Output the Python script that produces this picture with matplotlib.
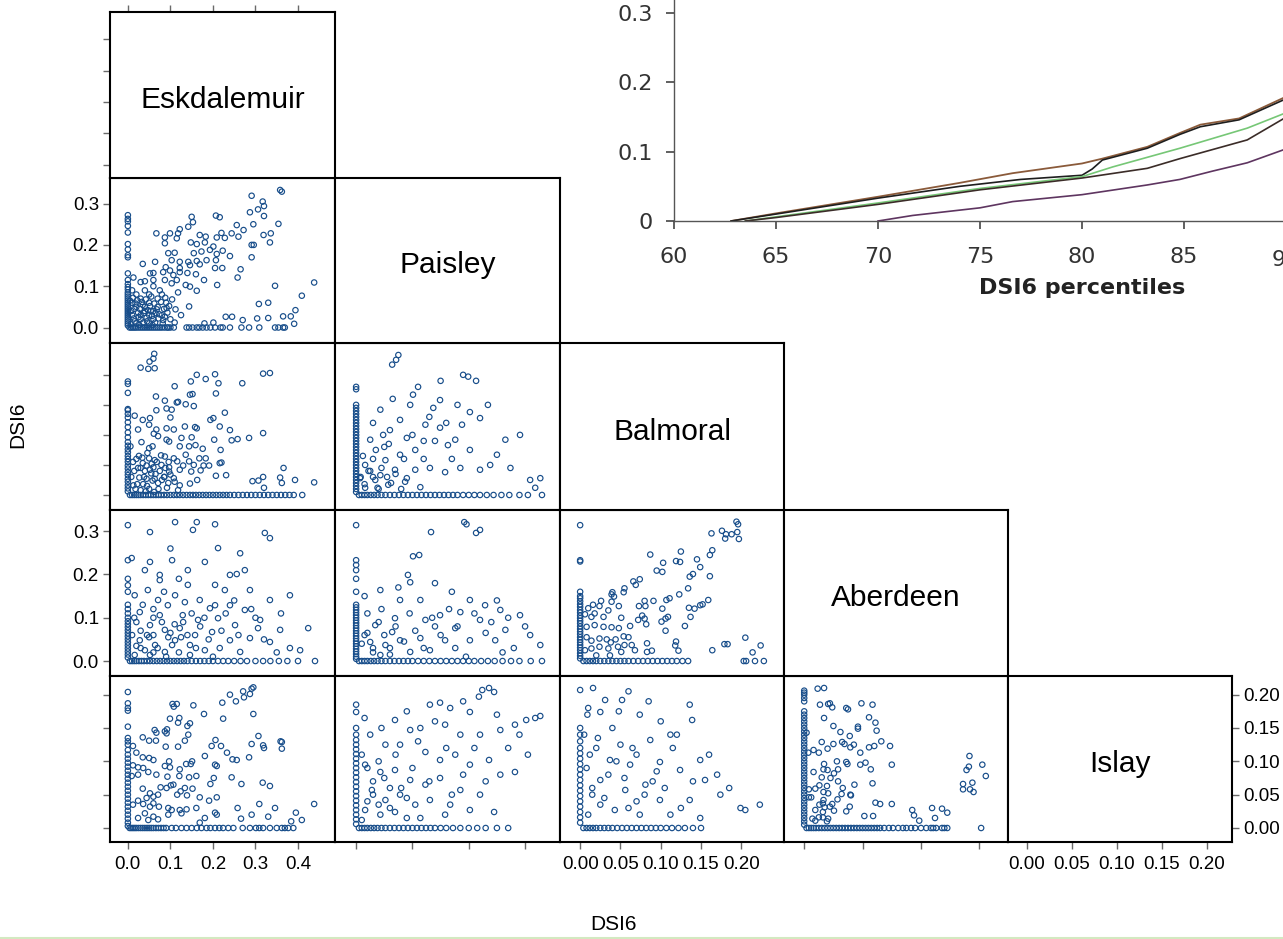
import numpy as np
import matplotlib.pyplot as plt
from matplotlib.lines import Line2D

plt.rcParams['font.family'] = ['Liberation Sans', 'DejaVu Sans']

W, H = 1283, 939

stations = ['Eskdalemuir', 'Paisley', 'Balmoral', 'Aberdeen', 'Islay']
limits = [(-0.042, 0.487), (-0.0375, 0.362), (-0.025, 0.253), (-0.0346, 0.349), (-0.021, 0.228)]
ticks = [[0.0, 0.1, 0.2, 0.3, 0.4], [0.0, 0.1, 0.2, 0.3], [0.0, 0.05, 0.10, 0.15, 0.20],
         [0.0, 0.1, 0.2, 0.3], [0.0, 0.05, 0.10, 0.15, 0.20]]
tick_labels = [['0.0', '0.1', '0.2', '0.3', '0.4'], ['0.0', '0.1', '0.2', '0.3'],
               ['0.00', '0.05', '0.10', '0.15', '0.20'], ['0.0', '0.1', '0.2', '0.3'],
               ['0.00', '0.05', '0.10', '0.15', '0.20']]

# ---- scatter data: off-axis points, values on the x=0 line, values on the y=0 line ----
# Eskdalemuir (x) vs Paisley (y)
esk_pai_pts = [
    (0.358, 0.333), (0.362, 0.329), (0.291, 0.319), (0.317, 0.305), (0.320, 0.294), (0.306, 0.286), (0.287, 0.279),
    (0.207, 0.271), (0.150, 0.268), (0.216, 0.267), (0.320, 0.270), (0.354, 0.251), (0.142, 0.244), (0.122, 0.238),
    (0.153, 0.255), (0.256, 0.248), (0.272, 0.236), (0.295, 0.250), (0.067, 0.228), (0.099, 0.228), (0.118, 0.228),
    (0.169, 0.224), (0.183, 0.220), (0.220, 0.229), (0.244, 0.228), (0.260, 0.220), (0.319, 0.224), (0.336, 0.228),
    (0.087, 0.218), (0.115, 0.216), (0.087, 0.204), (0.148, 0.206), (0.162, 0.202), (0.181, 0.206), (0.209, 0.218),
    (0.228, 0.217), (0.291, 0.200), (0.296, 0.200), (0.334, 0.206), (0.095, 0.180), (0.110, 0.181), (0.155, 0.180),
    (0.173, 0.184), (0.193, 0.188), (0.201, 0.196), (0.209, 0.178), (0.223, 0.186), (0.240, 0.173), (0.291, 0.170),
    (0.035, 0.154), (0.064, 0.159), (0.103, 0.163), (0.122, 0.159), (0.142, 0.159), (0.162, 0.161), (0.185, 0.163),
    (0.207, 0.163), (0.089, 0.146), (0.099, 0.138), (0.122, 0.144), (0.146, 0.151), (0.169, 0.153), (0.205, 0.144),
    (0.222, 0.144), (0.265, 0.141), (0.052, 0.131), (0.060, 0.132), (0.083, 0.134), (0.107, 0.127), (0.122, 0.134),
    (0.140, 0.132), (0.160, 0.129), (0.258, 0.121), (0.013, 0.121), (0.040, 0.112), (0.060, 0.115), (0.087, 0.115),
    (0.103, 0.107), (0.115, 0.115), (0.136, 0.103), (0.146, 0.099), (0.179, 0.115), (0.210, 0.103), (0.162, 0.089),
    (0.346, 0.101), (0.438, 0.109), (0.409, 0.077), (0.308, 0.057), (0.330, 0.060), (0.144, 0.051), (0.091, 0.047),
    (0.230, 0.026), (0.245, 0.026), (0.270, 0.018), (0.304, 0.022), (0.330, 0.023), (0.365, 0.027), (0.383, 0.027),
    (0.394, 0.042), (0.391, 0.009), (0.201, 0.012), (0.180, 0.010), (0.087, 0.026),
    (0.010, 0.060), (0.020, 0.050), (0.030, 0.070), (0.040, 0.050), (0.050, 0.060), (0.060, 0.040), (0.030, 0.030),
    (0.050, 0.030), (0.070, 0.070), (0.020, 0.080), (0.040, 0.090), (0.060, 0.100), (0.080, 0.080), (0.010, 0.030),
    (0.030, 0.020), (0.060, 0.020), (0.080, 0.030), (0.020, 0.010), (0.050, 0.010), (0.070, 0.050), (0.090, 0.060),
    (0.040, 0.040), (0.015, 0.045), (0.035, 0.055), (0.055, 0.075), (0.025, 0.025), (0.045, 0.015), (0.065, 0.035),
    (0.075, 0.090), (0.085, 0.045), (0.010, 0.090), (0.030, 0.110), (0.050, 0.080),
    (0.005, 0.065), (0.012, 0.072), (0.018, 0.058), (0.022, 0.066), (0.028, 0.045), (0.033, 0.062), (0.038, 0.035),
    (0.042, 0.068), (0.047, 0.042), (0.052, 0.052), (0.057, 0.028), (0.062, 0.058), (0.068, 0.044), (0.072, 0.022),
    (0.078, 0.062), (0.083, 0.018), (0.088, 0.072), (0.093, 0.036), (0.008, 0.040), (0.014, 0.022), (0.024, 0.036),
    (0.036, 0.012), (0.044, 0.024), (0.054, 0.040), (0.064, 0.012), (0.074, 0.032), (0.097, 0.052), (0.104, 0.068),
    (0.112, 0.044), (0.118, 0.085), (0.125, 0.030), (0.007, 0.008), (0.016, 0.015), (0.027, 0.006), (0.058, 0.006),
    (0.082, 0.010), (0.100, 0.020), (0.110, 0.012)]
esk_pai_col = [0.272, 0.263, 0.257, 0.246, 0.230, 0.202, 0.189, 0.175, 0.170, 0.131, 0.115, 0.105, 0.098, 0.092,
               0.085, 0.080, 0.075, 0.070, 0.065, 0.060, 0.055, 0.050, 0.045, 0.040, 0.035, 0.030, 0.025, 0.020,
               0.015, 0.010, 0.005]
esk_pai_row = [0.004, 0.008, 0.012, 0.016, 0.020, 0.025, 0.030, 0.035, 0.040, 0.045, 0.050, 0.055, 0.060, 0.065,
               0.070, 0.075, 0.080, 0.086, 0.092, 0.095, 0.100, 0.108, 0.138, 0.144, 0.152, 0.162, 0.168, 0.176,
               0.185, 0.194, 0.205, 0.218, 0.223, 0.240, 0.267, 0.285, 0.309, 0.346, 0.354, 0.365, 0.369]

# Eskdalemuir (x) vs Balmoral (y)
esk_bal_pts = [
    (0.062, 0.235), (0.060, 0.227), (0.051, 0.222), (0.030, 0.212), (0.048, 0.210), (0.063, 0.211), (0.318, 0.202),
    (0.334, 0.203), (0.162, 0.200), (0.205, 0.201), (0.183, 0.193), (0.148, 0.189), (0.213, 0.186), (0.269, 0.186),
    (0.110, 0.181), (0.152, 0.168), (0.207, 0.169), (0.066, 0.164), (0.146, 0.167), (0.087, 0.157), (0.115, 0.154),
    (0.118, 0.155), (0.136, 0.151), (0.155, 0.148), (0.091, 0.144), (0.103, 0.142), (0.067, 0.141), (0.016, 0.132),
    (0.052, 0.128), (0.035, 0.125), (0.100, 0.129), (0.194, 0.125), (0.201, 0.128), (0.228, 0.137), (0.050, 0.117),
    (0.024, 0.109), (0.067, 0.109), (0.091, 0.111), (0.108, 0.109), (0.134, 0.114), (0.158, 0.113), (0.162, 0.111),
    (0.216, 0.114), (0.240, 0.108), (0.318, 0.103), (0.061, 0.102), (0.071, 0.098), (0.126, 0.095), (0.150, 0.096),
    (0.091, 0.092), (0.097, 0.089), (0.032, 0.088), (0.285, 0.095), (0.258, 0.093), (0.244, 0.091), (0.203, 0.092),
    (0.006, 0.081), (0.050, 0.078), (0.058, 0.081), (0.122, 0.081), (0.144, 0.081), (0.159, 0.083), (0.176, 0.077),
    (0.218, 0.075), (0.136, 0.067), (0.050, 0.061), (0.063, 0.058), (0.087, 0.064), (0.108, 0.061), (0.116, 0.056),
    (0.144, 0.056), (0.168, 0.061), (0.183, 0.061), (0.216, 0.053), (0.220, 0.054), (0.035, 0.053), (0.024, 0.045),
    (0.044, 0.049), (0.060, 0.046), (0.079, 0.050), (0.097, 0.046), (0.130, 0.049), (0.155, 0.050), (0.178, 0.049),
    (0.191, 0.049), (0.366, 0.045), (0.171, 0.041), (0.149, 0.039), (0.097, 0.039), (0.122, 0.042), (0.207, 0.032),
    (0.231, 0.033), (0.318, 0.030), (0.358, 0.029), (0.393, 0.025), (0.438, 0.021), (0.293, 0.023), (0.307, 0.024),
    (0.362, 0.020), (0.320, 0.012), (0.027, 0.029), (0.044, 0.027), (0.063, 0.027), (0.071, 0.020), (0.108, 0.028),
    (0.122, 0.016), (0.146, 0.019), (0.163, 0.025), (0.036, 0.018), (0.013, 0.016), (0.055, 0.036), (0.085, 0.030),
    (0.040, 0.040), (0.075, 0.040), (0.020, 0.060), (0.095, 0.020), (0.050, 0.010), (0.030, 0.008),
    (0.008, 0.030), (0.015, 0.040), (0.022, 0.018), (0.030, 0.045), (0.038, 0.030), (0.045, 0.015), (0.052, 0.042),
    (0.058, 0.024), (0.065, 0.035), (0.072, 0.010), (0.080, 0.025), (0.088, 0.045), (0.092, 0.012), (0.100, 0.034),
    (0.110, 0.022), (0.118, 0.008), (0.012, 0.055), (0.026, 0.065), (0.034, 0.062), (0.046, 0.070), (0.056, 0.052),
    (0.068, 0.055), (0.078, 0.066), (0.086, 0.030), (0.018, 0.010), (0.042, 0.006), (0.062, 0.005), (0.096, 0.055)]
esk_bal_col = [0.189, 0.185, 0.170, 0.143, 0.141, 0.135, 0.129, 0.121, 0.113, 0.104, 0.096, 0.088, 0.082, 0.076,
               0.071, 0.065, 0.060, 0.055, 0.049, 0.044, 0.038, 0.033, 0.027, 0.022, 0.016, 0.011, 0.006]
esk_bal_row = [0.005, 0.010, 0.015, 0.020, 0.025, 0.030, 0.036, 0.042, 0.048, 0.054, 0.060, 0.066, 0.072, 0.078,
               0.085, 0.092, 0.100, 0.108, 0.115, 0.122, 0.130, 0.138, 0.146, 0.153, 0.160, 0.168, 0.176, 0.184,
               0.192, 0.200, 0.208, 0.216, 0.224, 0.232, 0.240, 0.250, 0.260, 0.270, 0.280, 0.290, 0.300, 0.310,
               0.320, 0.330, 0.340, 0.350, 0.360, 0.370, 0.380, 0.390, 0.410]

# Paisley (x) vs Balmoral (y)
pai_bal_pts = [
    (0.075, 0.233), (0.071, 0.225), (0.064, 0.217), (0.101, 0.167), (0.190, 0.200), (0.199, 0.197), (0.213, 0.190),
    (0.149, 0.158), (0.137, 0.145), (0.096, 0.150), (0.043, 0.142), (0.202, 0.138), (0.234, 0.150), (0.220, 0.128),
    (0.188, 0.117), (0.149, 0.112), (0.123, 0.117), (0.078, 0.125), (0.060, 0.108), (0.025, 0.092), (0.176, 0.092),
    (0.265, 0.092), (0.291, 0.100), (0.250, 0.067), (0.202, 0.075), (0.163, 0.083), (0.105, 0.075), (0.078, 0.067),
    (0.052, 0.058), (0.016, 0.050), (0.043, 0.033), (0.069, 0.042), (0.105, 0.042), (0.131, 0.045), (0.158, 0.038),
    (0.185, 0.045), (0.220, 0.042), (0.238, 0.050), (0.274, 0.045), (0.309, 0.025), (0.327, 0.028), (0.318, 0.012),
    (0.034, 0.025), (0.007, 0.028), (0.057, 0.017), (0.087, 0.022), (0.114, 0.013), (0.016, 0.012), (0.030, 0.060),
    (0.050, 0.080), (0.090, 0.095), (0.120, 0.060), (0.140, 0.090), (0.170, 0.060), (0.040, 0.010), (0.025, 0.040),
    (0.008, 0.030), (0.015, 0.018), (0.022, 0.040), (0.030, 0.030), (0.038, 0.012), (0.045, 0.045), (0.055, 0.030),
    (0.062, 0.020), (0.070, 0.035), (0.080, 0.010), (0.090, 0.028), (0.012, 0.065), (0.035, 0.075), (0.058, 0.085),
    (0.085, 0.060), (0.100, 0.100), (0.120, 0.090), (0.130, 0.130), (0.160, 0.120), (0.180, 0.150), (0.065, 0.160),
    (0.110, 0.180), (0.150, 0.190), (0.030, 0.120), (0.048, 0.100)]
pai_bal_col = [0.180, 0.176, 0.150, 0.145, 0.140, 0.135, 0.130, 0.125, 0.120, 0.115, 0.110, 0.105, 0.100, 0.095,
               0.090, 0.085, 0.080, 0.075, 0.070, 0.065, 0.060, 0.055, 0.050, 0.045, 0.040, 0.035, 0.030, 0.025,
               0.020, 0.015, 0.010, 0.005]
pai_bal_row = [0.005, 0.010, 0.015, 0.020, 0.026, 0.032, 0.038, 0.045, 0.052, 0.060, 0.068, 0.076, 0.084, 0.092,
               0.100, 0.108, 0.116, 0.124, 0.132, 0.140, 0.148, 0.156, 0.164, 0.172, 0.180, 0.190, 0.200, 0.210,
               0.220, 0.232, 0.244, 0.258, 0.272, 0.290, 0.305, 0.330]

# Eskdalemuir (x) vs Aberdeen (y)
esk_abe_pts = [
    (0.111, 0.321), (0.162, 0.321), (0.205, 0.316), (0.153, 0.303), (0.052, 0.298), (0.212, 0.261), (0.322, 0.296),
    (0.334, 0.284), (0.264, 0.249), (0.009, 0.238), (0.052, 0.229), (0.100, 0.260), (0.075, 0.199), (0.141, 0.210),
    (0.256, 0.201), (0.016, 0.152), (0.047, 0.164), (0.071, 0.141), (0.094, 0.129), (0.111, 0.152), (0.134, 0.136),
    (0.169, 0.141), (0.193, 0.122), (0.240, 0.129), (0.275, 0.118), (0.028, 0.113), (0.075, 0.106), (0.129, 0.106),
    (0.165, 0.095), (0.212, 0.099), (0.252, 0.083), (0.311, 0.095), (0.306, 0.076), (0.358, 0.072), (0.052, 0.083),
    (0.087, 0.072), (0.122, 0.076), (0.158, 0.060), (0.198, 0.067), (0.240, 0.048), (0.287, 0.053), (0.334, 0.044),
    (0.028, 0.048), (0.064, 0.037), (0.104, 0.037), (0.146, 0.037), (0.181, 0.025), (0.216, 0.030), (0.264, 0.021),
    (0.381, 0.030), (0.405, 0.025), (0.016, 0.014), (0.052, 0.014), (0.087, 0.021), (0.146, 0.014), (0.141, 0.176),
    (0.205, 0.176), (0.228, 0.164), (0.287, 0.164), (0.334, 0.141), (0.381, 0.152), (0.424, 0.076), (0.205, 0.129),
    (0.111, 0.048), (0.040, 0.210), (0.104, 0.233), (0.181, 0.229), (0.275, 0.210), (0.075, 0.187), (0.240, 0.199),
    (0.030, 0.030), (0.045, 0.060), (0.060, 0.020), (0.095, 0.055), (0.020, 0.090), (0.060, 0.100), (0.125, 0.055),
    (0.010, 0.060), (0.020, 0.035), (0.030, 0.070), (0.040, 0.025), (0.050, 0.055), (0.060, 0.060), (0.070, 0.030),
    (0.080, 0.090), (0.090, 0.010), (0.100, 0.065), (0.110, 0.085), (0.120, 0.020), (0.130, 0.090), (0.140, 0.060),
    (0.150, 0.110), (0.160, 0.030), (0.170, 0.080), (0.180, 0.100), (0.190, 0.050), (0.200, 0.010), (0.220, 0.070),
    (0.230, 0.110), (0.250, 0.140), (0.260, 0.060), (0.290, 0.120), (0.300, 0.100), (0.320, 0.050), (0.350, 0.020),
    (0.360, 0.110), (0.015, 0.100), (0.035, 0.130), (0.060, 0.120), (0.085, 0.160), (0.120, 0.190)]
esk_abe_col = [0.314, 0.233, 0.190, 0.175, 0.160, 0.130, 0.120, 0.110, 0.100, 0.092, 0.085, 0.078, 0.071, 0.064,
               0.057, 0.050, 0.043, 0.036, 0.029, 0.022, 0.015, 0.008]
esk_abe_row = [0.005, 0.010, 0.015, 0.020, 0.026, 0.032, 0.038, 0.045, 0.052, 0.060, 0.068, 0.076, 0.084, 0.092,
               0.100, 0.108, 0.116, 0.124, 0.132, 0.140, 0.150, 0.160, 0.170, 0.180, 0.190, 0.200, 0.212, 0.224,
               0.236, 0.250, 0.265, 0.280, 0.300, 0.318, 0.335, 0.355, 0.375, 0.400, 0.440]

# Paisley (x) vs Aberdeen (y)
pai_abe_pts = [
    (0.192, 0.321), (0.196, 0.316), (0.213, 0.296), (0.220, 0.303), (0.133, 0.298), (0.112, 0.245), (0.101, 0.242),
    (0.092, 0.199), (0.096, 0.182), (0.043, 0.164), (0.078, 0.141), (0.114, 0.141), (0.202, 0.141), (0.229, 0.129),
    (0.185, 0.113), (0.149, 0.106), (0.123, 0.095), (0.069, 0.099), (0.034, 0.083), (0.176, 0.076), (0.220, 0.095),
    (0.256, 0.118), (0.291, 0.106), (0.309, 0.060), (0.327, 0.037), (0.265, 0.072), (0.247, 0.048), (0.202, 0.048),
    (0.158, 0.048), (0.114, 0.053), (0.078, 0.048), (0.052, 0.037), (0.025, 0.044), (0.176, 0.030), (0.131, 0.025),
    (0.096, 0.021), (0.043, 0.014), (0.064, 0.067), (0.015, 0.060), (0.030, 0.020), (0.060, 0.030), (0.140, 0.080),
    (0.240, 0.090), (0.280, 0.030), (0.020, 0.110),
    (0.010, 0.040), (0.020, 0.065), (0.030, 0.030), (0.040, 0.090), (0.050, 0.060), (0.060, 0.015), (0.070, 0.080),
    (0.085, 0.045), (0.095, 0.110), (0.105, 0.070), (0.120, 0.030), (0.135, 0.100), (0.150, 0.060), (0.165, 0.120),
    (0.180, 0.080), (0.195, 0.010), (0.210, 0.110), (0.230, 0.065), (0.260, 0.020), (0.270, 0.100), (0.300, 0.080),
    (0.015, 0.150), (0.045, 0.120), (0.075, 0.170), (0.140, 0.180), (0.170, 0.160), (0.250, 0.140)]
pai_abe_col = [0.314, 0.233, 0.222, 0.210, 0.190, 0.160, 0.130, 0.124, 0.118, 0.112, 0.106, 0.100, 0.094, 0.088,
               0.082, 0.076, 0.070, 0.064, 0.058, 0.052, 0.046, 0.040, 0.034, 0.028, 0.022, 0.016, 0.010, 0.005]
pai_abe_row = [0.005, 0.010, 0.015, 0.020, 0.026, 0.032, 0.038, 0.045, 0.052, 0.060, 0.068, 0.076, 0.084, 0.092,
               0.100, 0.110, 0.120, 0.130, 0.140, 0.150, 0.160, 0.170, 0.180, 0.190, 0.200, 0.210, 0.222, 0.234,
               0.246, 0.260, 0.275, 0.290, 0.310, 0.330]

# Balmoral (x) vs Aberdeen (y)
bal_abe_pts = [
    (0.194, 0.322), (0.196, 0.316), (0.176, 0.301), (0.181, 0.293), (0.188, 0.293), (0.180, 0.283), (0.197, 0.282),
    (0.195, 0.298), (0.163, 0.295), (0.164, 0.256), (0.161, 0.245), (0.125, 0.253), (0.124, 0.229), (0.119, 0.231),
    (0.103, 0.227), (0.087, 0.246), (0.095, 0.209), (0.102, 0.206), (0.145, 0.235), (0.149, 0.217), (0.161, 0.196),
    (0.136, 0.195), (0.140, 0.201), (0.074, 0.189), (0.066, 0.184), (0.069, 0.176), (0.055, 0.168), (0.054, 0.159),
    (0.040, 0.159), (0.042, 0.149), (0.039, 0.154), (0.134, 0.168), (0.123, 0.154), (0.111, 0.145), (0.107, 0.141),
    (0.159, 0.141), (0.152, 0.131), (0.149, 0.129), (0.142, 0.121), (0.135, 0.123), (0.137, 0.102), (0.130, 0.081),
    (0.106, 0.070), (0.102, 0.121), (0.106, 0.098), (0.101, 0.091), (0.109, 0.102), (0.091, 0.139), (0.080, 0.139),
    (0.081, 0.127), (0.073, 0.127), (0.077, 0.105), (0.082, 0.085), (0.080, 0.098), (0.072, 0.095), (0.062, 0.081),
    (0.051, 0.100), (0.048, 0.127), (0.039, 0.137), (0.026, 0.139), (0.016, 0.130), (0.010, 0.122), (0.024, 0.127),
    (0.035, 0.117), (0.018, 0.110), (0.014, 0.102), (0.029, 0.102), (0.006, 0.108), (0.008, 0.079), (0.018, 0.083),
    (0.029, 0.079), (0.039, 0.078), (0.048, 0.076), (0.060, 0.055), (0.054, 0.057), (0.044, 0.050), (0.038, 0.043),
    (0.033, 0.050), (0.024, 0.052), (0.014, 0.047), (0.008, 0.055), (0.024, 0.033), (0.014, 0.029), (0.006, 0.025),
    (0.035, 0.029), (0.047, 0.033), (0.055, 0.037), (0.064, 0.037), (0.068, 0.025), (0.051, 0.021), (0.037, 0.013),
    (0.020, 0.013), (0.083, 0.041), (0.089, 0.024), (0.083, 0.021), (0.119, 0.045), (0.118, 0.036), (0.122, 0.024),
    (0.179, 0.039), (0.183, 0.039), (0.164, 0.025), (0.205, 0.054), (0.224, 0.036), (0.214, 0.020)]
bal_abe_col = [0.314, 0.233, 0.230, 0.160, 0.150, 0.145, 0.138, 0.131, 0.125, 0.118, 0.112, 0.105, 0.099, 0.093,
               0.087, 0.080, 0.074, 0.068, 0.062, 0.055, 0.049, 0.043, 0.037, 0.031, 0.025, 0.018, 0.012, 0.006]
bal_abe_row = [0.004, 0.008, 0.012, 0.016, 0.020, 0.025, 0.030, 0.035, 0.040, 0.045, 0.050, 0.055, 0.060, 0.066,
               0.072, 0.078, 0.084, 0.090, 0.096, 0.102, 0.108, 0.114, 0.120, 0.127, 0.134, 0.203, 0.206, 0.217,
               0.228]

# Eskdalemuir (x) vs Islay (y)
esk_isl_pts = [
    (0.295, 0.211), (0.291, 0.209), (0.271, 0.205), (0.240, 0.200), (0.273, 0.196), (0.287, 0.201), (0.254, 0.190),
    (0.222, 0.188), (0.105, 0.186), (0.115, 0.186), (0.108, 0.182), (0.154, 0.184), (0.295, 0.171), (0.179, 0.171),
    (0.224, 0.164), (0.099, 0.164), (0.121, 0.165), (0.118, 0.158), (0.146, 0.157), (0.140, 0.153), (0.063, 0.147),
    (0.067, 0.143), (0.087, 0.145), (0.092, 0.148), (0.091, 0.142), (0.142, 0.140), (0.307, 0.138), (0.291, 0.126),
    (0.318, 0.124), (0.320, 0.120), (0.359, 0.130), (0.362, 0.129), (0.362, 0.119), (0.035, 0.136), (0.050, 0.131),
    (0.066, 0.131), (0.134, 0.131), (0.206, 0.132), (0.219, 0.123), (0.197, 0.123), (0.118, 0.122), (0.089, 0.122),
    (0.012, 0.123), (0.020, 0.113), (0.035, 0.106), (0.050, 0.105), (0.060, 0.102), (0.233, 0.113), (0.181, 0.108),
    (0.205, 0.095), (0.209, 0.093), (0.151, 0.100), (0.148, 0.096), (0.137, 0.096), (0.097, 0.100), (0.087, 0.093),
    (0.099, 0.091), (0.122, 0.088), (0.161, 0.078), (0.144, 0.076), (0.121, 0.078), (0.093, 0.077), (0.246, 0.103),
    (0.256, 0.102), (0.285, 0.106), (0.244, 0.076), (0.202, 0.075), (0.267, 0.066), (0.317, 0.068), (0.334, 0.063),
    (0.194, 0.066), (0.012, 0.094), (0.024, 0.091), (0.036, 0.090), (0.048, 0.084), (0.067, 0.080), (0.024, 0.080),
    (0.009, 0.078), (0.107, 0.065), (0.101, 0.064), (0.091, 0.060), (0.077, 0.061), (0.134, 0.060), (0.152, 0.059),
    (0.124, 0.055), (0.116, 0.050), (0.139, 0.049), (0.169, 0.046), (0.191, 0.041), (0.209, 0.046), (0.035, 0.059),
    (0.052, 0.052), (0.060, 0.047), (0.071, 0.050), (0.044, 0.045), (0.024, 0.041), (0.012, 0.035), (0.036, 0.036),
    (0.052, 0.032), (0.060, 0.037), (0.073, 0.032), (0.095, 0.030), (0.103, 0.027), (0.122, 0.027), (0.138, 0.028),
    (0.161, 0.030), (0.126, 0.022), (0.095, 0.020), (0.181, 0.015), (0.205, 0.023), (0.209, 0.020), (0.258, 0.030),
    (0.266, 0.014), (0.291, 0.020), (0.309, 0.036), (0.330, 0.017), (0.346, 0.030), (0.395, 0.023), (0.409, 0.012),
    (0.384, 0.010), (0.438, 0.036), (0.024, 0.015), (0.048, 0.012), (0.071, 0.013), (0.040, 0.022), (0.060, 0.017),
    (0.169, 0.008)]
esk_isl_col = [0.204, 0.187, 0.180, 0.176, 0.152, 0.135, 0.130, 0.125, 0.117, 0.110, 0.104, 0.098, 0.092, 0.086,
               0.080, 0.074, 0.068, 0.062, 0.056, 0.050, 0.044, 0.038, 0.032, 0.026, 0.020, 0.014, 0.008, 0.003]
esk_isl_row = [0.004, 0.008, 0.012, 0.016, 0.020, 0.025, 0.030, 0.035, 0.040, 0.045, 0.050, 0.055, 0.060, 0.066,
               0.072, 0.078, 0.084, 0.090, 0.103, 0.113, 0.126, 0.138, 0.150, 0.162, 0.173, 0.185, 0.194, 0.205,
               0.215, 0.224, 0.236, 0.248, 0.270, 0.287, 0.301, 0.309, 0.318, 0.334, 0.350, 0.362, 0.369, 0.377,
               0.389]

# Paisley (x) vs Islay (y)
pai_isl_pts = [
    (0.224, 0.207), (0.236, 0.210), (0.245, 0.204), (0.218, 0.197), (0.131, 0.185), (0.149, 0.188), (0.167, 0.180),
    (0.202, 0.174), (0.069, 0.162), (0.096, 0.147), (0.114, 0.150), (0.158, 0.155), (0.185, 0.140), (0.220, 0.140),
    (0.256, 0.147), (0.282, 0.155), (0.302, 0.162), (0.318, 0.165), (0.327, 0.168), (0.025, 0.140), (0.052, 0.125),
    (0.078, 0.125), (0.123, 0.114), (0.149, 0.102), (0.176, 0.110), (0.202, 0.095), (0.236, 0.102), (0.256, 0.080),
    (0.282, 0.084), (0.016, 0.095), (0.043, 0.084), (0.069, 0.087), (0.096, 0.072), (0.123, 0.065), (0.149, 0.075),
    (0.185, 0.057), (0.220, 0.050), (0.028, 0.057), (0.052, 0.042), (0.078, 0.050), (0.105, 0.035), (0.131, 0.042),
    (0.167, 0.035), (0.202, 0.027), (0.016, 0.027), (0.043, 0.020), (0.069, 0.024), (0.114, 0.015), (0.158, 0.020),
    (0.245, 0.024), (0.030, 0.070), (0.060, 0.060), (0.090, 0.045), (0.020, 0.040), (0.040, 0.035), (0.010, 0.012),
    (0.010, 0.110), (0.020, 0.090), (0.030, 0.050), (0.040, 0.100), (0.050, 0.075), (0.060, 0.030), (0.070, 0.110),
    (0.080, 0.060), (0.090, 0.015), (0.100, 0.090), (0.110, 0.130), (0.130, 0.070), (0.140, 0.160), (0.160, 0.120),
    (0.170, 0.050), (0.190, 0.080), (0.210, 0.120), (0.230, 0.070), (0.250, 0.170), (0.270, 0.120), (0.290, 0.140),
    (0.305, 0.110), (0.015, 0.165), (0.045, 0.150), (0.090, 0.175), (0.190, 0.190)]
pai_isl_col = [0.185, 0.174, 0.150, 0.140, 0.132, 0.125, 0.118, 0.111, 0.104, 0.097, 0.090, 0.083, 0.076, 0.069,
               0.062, 0.055, 0.048, 0.041, 0.034, 0.027, 0.020, 0.013, 0.006]
pai_isl_row = [0.005, 0.010, 0.015, 0.020, 0.026, 0.032, 0.038, 0.045, 0.052, 0.060, 0.068, 0.076, 0.084, 0.092,
               0.100, 0.108, 0.116, 0.124, 0.132, 0.140, 0.150, 0.160, 0.172, 0.185, 0.200, 0.215, 0.230, 0.250,
               0.270]

# Balmoral (x) vs Islay (y)
bal_isl_pts = [
    (0.016, 0.210), (0.031, 0.192), (0.052, 0.192), (0.025, 0.174), (0.009, 0.170), (0.074, 0.170), (0.136, 0.185),
    (0.139, 0.162), (0.112, 0.140), (0.087, 0.132), (0.050, 0.125), (0.022, 0.135), (0.037, 0.102), (0.062, 0.095),
    (0.099, 0.099), (0.124, 0.087), (0.149, 0.102), (0.155, 0.072), (0.174, 0.050), (0.199, 0.030), (0.205, 0.027),
    (0.223, 0.035), (0.025, 0.072), (0.056, 0.057), (0.081, 0.065), (0.099, 0.042), (0.136, 0.042), (0.025, 0.035),
    (0.043, 0.027), (0.074, 0.020), (0.112, 0.020), (0.149, 0.015), (0.012, 0.110), (0.040, 0.150), (0.065, 0.120),
    (0.015, 0.050), (0.035, 0.080), (0.070, 0.040), (0.010, 0.020), (0.090, 0.070),
    (0.008, 0.090), (0.015, 0.060), (0.020, 0.120), (0.030, 0.045), (0.045, 0.100), (0.055, 0.075), (0.060, 0.030),
    (0.070, 0.110), (0.080, 0.050), (0.095, 0.085), (0.105, 0.060), (0.115, 0.120), (0.125, 0.030), (0.140, 0.070),
    (0.160, 0.110), (0.170, 0.080), (0.185, 0.060), (0.010, 0.180), (0.048, 0.175), (0.100, 0.160), (0.060, 0.205),
    (0.085, 0.190), (0.120, 0.140), (0.005, 0.140)]
bal_isl_col = [0.207, 0.150, 0.140, 0.130, 0.120, 0.112, 0.104, 0.096, 0.088, 0.080, 0.072, 0.064, 0.056, 0.048,
               0.040, 0.032, 0.024, 0.016, 0.008]
bal_isl_row = [0.004, 0.008, 0.012, 0.016, 0.020, 0.025, 0.030, 0.035, 0.040, 0.046, 0.052, 0.058, 0.064, 0.070,
               0.076, 0.082, 0.088, 0.094, 0.100, 0.107, 0.114, 0.122, 0.130, 0.140, 0.150]

# Aberdeen (x) vs Islay (y)
abe_isl_pts = [
    (0.023, 0.209), (0.034, 0.210), (0.027, 0.185), (0.041, 0.186), (0.044, 0.187), (0.048, 0.181), (0.072, 0.180),
    (0.075, 0.178), (0.098, 0.187), (0.117, 0.185), (0.034, 0.165), (0.111, 0.166), (0.122, 0.158), (0.124, 0.146),
    (0.092, 0.152), (0.092, 0.149), (0.050, 0.153), (0.062, 0.144), (0.078, 0.138), (0.004, 0.143), (0.030, 0.129),
    (0.065, 0.129), (0.069, 0.126), (0.050, 0.126), (0.040, 0.119), (0.085, 0.125), (0.079, 0.121), (0.111, 0.121),
    (0.120, 0.123), (0.132, 0.130), (0.147, 0.123), (0.096, 0.113), (0.016, 0.117), (0.025, 0.113), (0.007, 0.113),
    (0.034, 0.096), (0.056, 0.100), (0.072, 0.099), (0.074, 0.096), (0.105, 0.098), (0.096, 0.095), (0.114, 0.088),
    (0.150, 0.095), (0.033, 0.088), (0.040, 0.087), (0.058, 0.088), (0.051, 0.082), (0.016, 0.084), (0.030, 0.076),
    (0.045, 0.075), (0.058, 0.070), (0.086, 0.065), (0.117, 0.067), (0.026, 0.064), (0.039, 0.063), (0.019, 0.059),
    (0.008, 0.058), (0.033, 0.054), (0.041, 0.052), (0.066, 0.060), (0.064, 0.051), (0.079, 0.050), (0.080, 0.049),
    (0.057, 0.043), (0.033, 0.042), (0.012, 0.046), (0.008, 0.046), (0.048, 0.036), (0.032, 0.037), (0.026, 0.035),
    (0.044, 0.032), (0.035, 0.031), (0.078, 0.032), (0.072, 0.025), (0.051, 0.026), (0.032, 0.024), (0.019, 0.027),
    (0.025, 0.016), (0.032, 0.016), (0.041, 0.014), (0.014, 0.014), (0.019, 0.011), (0.039, 0.010), (0.122, 0.038),
    (0.130, 0.036), (0.150, 0.036), (0.103, 0.018), (0.118, 0.018), (0.185, 0.027), (0.188, 0.019), (0.197, 0.011),
    (0.219, 0.030), (0.224, 0.015), (0.236, 0.029), (0.245, 0.023), (0.283, 0.108), (0.282, 0.092), (0.278, 0.087),
    (0.305, 0.095), (0.311, 0.078), (0.288, 0.068), (0.272, 0.066), (0.272, 0.058), (0.284, 0.058), (0.290, 0.054)]
abe_isl_col = [0.206, 0.203, 0.200, 0.195, 0.190, 0.175, 0.170, 0.165, 0.160, 0.155, 0.150, 0.145, 0.140, 0.135,
               0.130, 0.125, 0.120, 0.115, 0.110, 0.105, 0.100, 0.095, 0.090, 0.085, 0.080, 0.075, 0.070, 0.065,
               0.060, 0.055, 0.050, 0.045, 0.040, 0.035, 0.030, 0.025, 0.020, 0.015, 0.010, 0.005]
abe_isl_row = [0.004, 0.008, 0.012, 0.016, 0.020, 0.025, 0.030, 0.035, 0.040, 0.045, 0.050, 0.055, 0.060, 0.065,
               0.070, 0.075, 0.080, 0.085, 0.090, 0.095, 0.100, 0.105, 0.110, 0.115, 0.120, 0.125, 0.130, 0.137,
               0.145, 0.152, 0.161, 0.169, 0.175, 0.183, 0.190, 0.200, 0.209, 0.217, 0.221, 0.226, 0.236, 0.240,
               0.245, 0.303]

# ---- inset chart (exceedance curves vs DSI6 percentile) ----
pct_brown = [62.8, 65, 70, 74, 76.6, 80, 81, 83.2, 84.8, 85.8, 87.7, 89.9]
val_brown = [0, 0.011, 0.035, 0.055, 0.069, 0.083, 0.090, 0.107, 0.127, 0.139, 0.148, 0.178]
pct_black = [62.8, 65, 70, 74, 77, 80, 80.5, 81, 83.2, 84.8, 85.8, 87.7, 89.9]
val_black = [0, 0.010, 0.033, 0.050, 0.060, 0.066, 0.075, 0.088, 0.105, 0.125, 0.136, 0.146, 0.175]
pct_green = [63.5, 65, 70, 75, 80, 81.5, 84.8, 88.1, 89.9]
val_green = [0, 0.006, 0.026, 0.047, 0.064, 0.078, 0.105, 0.134, 0.155]
pct_dark = [63.5, 65, 70, 75, 80, 83.2, 84.8, 88.1, 89.9]
val_dark = [0, 0.005, 0.024, 0.045, 0.062, 0.076, 0.090, 0.117, 0.148]
pct_purple = [70, 71.7, 75, 76.6, 80, 83.2, 84.8, 86.4, 88.1, 89.9]
val_purple = [0, 0.008, 0.019, 0.028, 0.038, 0.052, 0.060, 0.072, 0.084, 0.103]

panels = [
    (1, 0, esk_pai_pts, esk_pai_col, esk_pai_row),
    (2, 0, esk_bal_pts, esk_bal_col, esk_bal_row),
    (2, 1, pai_bal_pts, pai_bal_col, pai_bal_row),
    (3, 0, esk_abe_pts, esk_abe_col, esk_abe_row),
    (3, 1, pai_abe_pts, pai_abe_col, pai_abe_row),
    (3, 2, bal_abe_pts, bal_abe_col, bal_abe_row),
    (4, 0, esk_isl_pts, esk_isl_col, esk_isl_row),
    (4, 1, pai_isl_pts, pai_isl_col, pai_isl_row),
    (4, 2, bal_isl_pts, bal_isl_col, bal_isl_row),
    (4, 3, abe_isl_pts, abe_isl_col, abe_isl_row),
]

col_edges = [110, 335, 560, 784, 1008, 1232]
row_edges = [12, 178, 343, 510, 676, 842]
dot_color = '#174d8a'

fig = plt.figure(figsize=(W / 100, H / 100), dpi=100)


def cell(r, c):
    x0, x1 = col_edges[c], col_edges[c + 1]
    y0, y1 = row_edges[r], row_edges[r + 1]
    ax = fig.add_axes([x0 / W, 1 - y1 / H, (x1 - x0) / W, (y1 - y0) / H])
    ax.set_xlim(limits[c])
    ax.set_ylim(limits[r])
    ax.set_xticks(ticks[c])
    ax.set_xticklabels(tick_labels[c])
    ax.set_yticks(ticks[r])
    ax.set_yticklabels(tick_labels[r])
    for s in ax.spines.values():
        s.set_linewidth(1.5)
        s.set_color('black')
    ax.tick_params(which='both', direction='out', length=5, width=1, color='#6a6a6a',
                   labelsize=13.5, pad=3, bottom=False, left=False, top=False, right=False,
                   labelbottom=False, labelleft=False, labeltop=False, labelright=False)
    return ax


for r, c, pts, col0, row0 in panels:
    ax = cell(r, c)
    xs = [p[0] for p in pts] + [0.0] * len(col0) + list(row0)
    ys = [p[1] for p in pts] + list(col0) + [0.0] * len(row0)
    ax.scatter(xs, ys, s=15, facecolors='none', edgecolors=dot_color, linewidths=0.85, zorder=3)
    if c == 0:
        ax.tick_params(left=True, labelleft=(r in (1, 3)))
    if r == 4:
        ax.tick_params(bottom=True, labelbottom=(c in (0, 2)), pad=5)

for i, name in enumerate(stations):
    ax = cell(i, i)
    ax.text(0.5, 0.47, name, transform=ax.transAxes, ha='center', va='center', fontsize=21.5)
    if i == 0:
        ax.tick_params(left=True, top=True)
    if i == 4:
        ax.tick_params(right=True, labelright=True, bottom=True, labelbottom=True)
        ax.tick_params(axis='x', pad=5)

fig.text(613 / W, 1 - 925 / H, 'DSI6', ha='center', va='center', fontsize=15)
fig.text(18 / W, 1 - 425 / H, 'DSI6', ha='center', va='center', rotation=90, fontsize=15)

# inset chart in the upper right
ins = fig.add_axes([674 / W, 1 - 221 / H, (W - 674) / W, 221 / H])
ins.set_facecolor('none')
ins.plot(pct_brown, val_brown, color='#8a5a3a', lw=1.3)
ins.plot(pct_black, val_black, color='#1e1e1e', lw=1.2)
ins.plot(pct_green, val_green, color='#76c776', lw=1.2)
ins.plot(pct_dark, val_dark, color='#3b2c28', lw=1.2)
ins.plot(pct_purple, val_purple, color='#5e3560', lw=1.2)
ins.set_xlim(60, 60 + (W - 674) / 20.4)
ins.set_ylim(0, 221 / 693)
ins.set_xticks([60, 65, 70, 75, 80, 85])
ins.set_yticks([0, 0.1, 0.2, 0.3])
ins.set_yticklabels(['0', '0.1', '0.2', '0.3'])
for s in ['top', 'right']:
    ins.spines[s].set_visible(False)
for s in ['left', 'bottom']:
    ins.spines[s].set_color('#555555')
    ins.spines[s].set_linewidth(1.0)
ins.tick_params(direction='out', length=6, width=1.2, color='#444444', labelcolor='#333333')
ins.tick_params(axis='x', pad=13)
ins.tick_params(axis='y', pad=9)
for lab in ins.get_xticklabels() + ins.get_yticklabels():
    lab.set_family('DejaVu Sans')
    lab.set_fontsize(16)
ins.text(90, -0.056, '90', ha='center', va='center', fontsize=16, color='#333333',
         family='DejaVu Sans', clip_on=False)
ins.text(80, -0.097, 'DSI6 percentiles', ha='center', va='center', fontsize=16,
         fontweight='bold', color='#222222', family='DejaVu Sans')

fig.add_artist(Line2D([0, 1], [1 - 937.5 / H] * 2, color='#d3e9c1', lw=1.5))

fig.savefig('out.png', dpi=100)
